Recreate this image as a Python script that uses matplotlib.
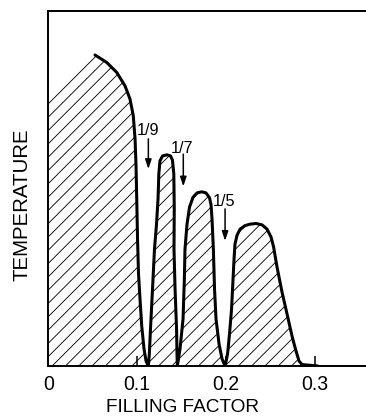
import matplotlib
matplotlib.use("Agg")
import numpy as np
import matplotlib.pyplot as plt
from matplotlib.patches import Polygon

# phase boundary: temperature (arbitrary units) vs filling factor
filling = [0.0524, 0.0656, 0.0769, 0.0863, 0.0919, 0.0956, 0.0976, 0.0987,
           0.0995, 0.1004, 0.1015, 0.1032, 0.1051, 0.1077, 0.1100, 0.1126,
           0.1137, 0.1150, 0.1173, 0.1195, 0.1218, 0.1235, 0.1244, 0.1257,
           0.1286, 0.1336, 0.1376, 0.1398, 0.1413, 0.1418, 0.1415, 0.1427,
           0.1444, 0.1449, 0.1453,
           0.1483, 0.1517, 0.1532, 0.1539, 0.1562, 0.1590, 0.1630, 0.1675,
           0.1728, 0.1776, 0.1816, 0.1833, 0.1844, 0.1859, 0.1872, 0.1889,
           0.1923, 0.1957, 0.1991,
           0.2019, 0.2041, 0.2064, 0.2081, 0.2092, 0.2103, 0.2126, 0.2160,
           0.2216, 0.2273, 0.2340, 0.2408, 0.2464, 0.2509, 0.2538, 0.2577,
           0.2633, 0.2690, 0.2746, 0.2791, 0.2825, 0.2859, 0.2949, 0.3039]
temperature = [0.875, 0.854, 0.826, 0.788, 0.751, 0.704, 0.639, 0.563,
               0.470, 0.357, 0.259, 0.188, 0.113, 0.048, 0.014, 0.0,
               0.034, 0.104, 0.217, 0.329, 0.399, 0.470, 0.540, 0.577,
               0.591, 0.594, 0.591, 0.579, 0.540, 0.442, 0.329, 0.217,
               0.104, 0.034, 0.0,
               0.048, 0.132, 0.245, 0.329, 0.399, 0.447, 0.475, 0.487,
               0.490, 0.487, 0.473, 0.453, 0.413, 0.329, 0.217, 0.132,
               0.062, 0.020, 0.0,
               0.034, 0.090, 0.160, 0.245, 0.301, 0.343, 0.368, 0.385,
               0.395, 0.399, 0.401, 0.397, 0.385, 0.363, 0.335, 0.278,
               0.208, 0.146, 0.084, 0.042, 0.014, 0.004, 0.002, 0.0]
# temperature where the shaded region meets the vertical axis
t_at_zero = 0.75

# fractions marked with arrows: label, text position, arrow tail, arrow tip
frac_labels = ["1/9", "1/7", "1/5"]
frac_text_x = [0.1117, 0.1506, 0.1979]
frac_text_y = [0.665, 0.615, 0.465]
arrow_x = [0.1126, 0.1520, 0.1991]
arrow_top = [0.639, 0.596, 0.442]
arrow_tip = [0.554, 0.505, 0.352]

xticks = [0, 0.1, 0.2, 0.3]
xtick_labels = ["0", "0.1", "0.2", "0.3"]

plt.rcParams['font.family'] = ['Liberation Sans', 'DejaVu Sans']

dpi = 78
fig = plt.figure(figsize=(366 / dpi, 419 / dpi), dpi=dpi)
ax = fig.add_axes([0.1325, 0.1241, 0.8675, 0.8484])
ax.set_xlim(0, 0.358)
ax.set_ylim(0, 1)

# region under the boundary, used as clip path for the hatching
poly_x = [0, 0] + filling
poly_y = [0, t_at_zero] + temperature
region = Polygon(np.column_stack([poly_x, poly_y]), closed=True,
                 facecolor='none', edgecolor='none')
ax.add_patch(region)

# 45 degree hatch lines, about 13 px apart
p0 = ax.transData.transform((0, 0))
sx = ax.transData.transform((1, 0))[0] - p0[0]
sy = ax.transData.transform((0, 1))[1] - p0[1]
step = 13.3 / sx
for x0 in np.arange(-sy / sx, 0.36, step):
    ln, = ax.plot([x0, x0 + sy / sx], [0, 1], color='black', lw=0.8)
    ln.set_clip_path(region)

ax.plot(filling, temperature, color='black', lw=2.8,
        solid_joinstyle='round', solid_capstyle='round')

for lab, tx, ty, ax_x, a0, a1 in zip(frac_labels, frac_text_x, frac_text_y,
                                     arrow_x, arrow_top, arrow_tip):
    ax.text(tx, ty, lab, ha='center', va='center', fontsize=15)
    ax.annotate('', xy=(ax_x, a1), xytext=(ax_x, a0),
                arrowprops=dict(arrowstyle='-|>,head_length=0.6,head_width=0.2',
                                color='black', lw=1.4, mutation_scale=12,
                                shrinkA=0, shrinkB=0))

ax.spines['right'].set_visible(False)
for s in ['left', 'bottom', 'top']:
    ax.spines[s].set_linewidth(1.8)
ax.set_yticks([])
ax.set_xticks(xticks)
ax.set_xticklabels(xtick_labels)
ax.tick_params(axis='x', direction='in', length=9, width=1.4, pad=7,
               labelsize=18)

ax.set_xlabel("FILLING FACTOR", fontsize=17.5)
ax.set_ylabel("TEMPERATURE", fontsize=18.8)
ax.xaxis.set_label_coords(0.4236, -0.091)
ax.yaxis.set_label_coords(-0.052, 0.456)

fig.savefig("out.png", dpi=dpi)
